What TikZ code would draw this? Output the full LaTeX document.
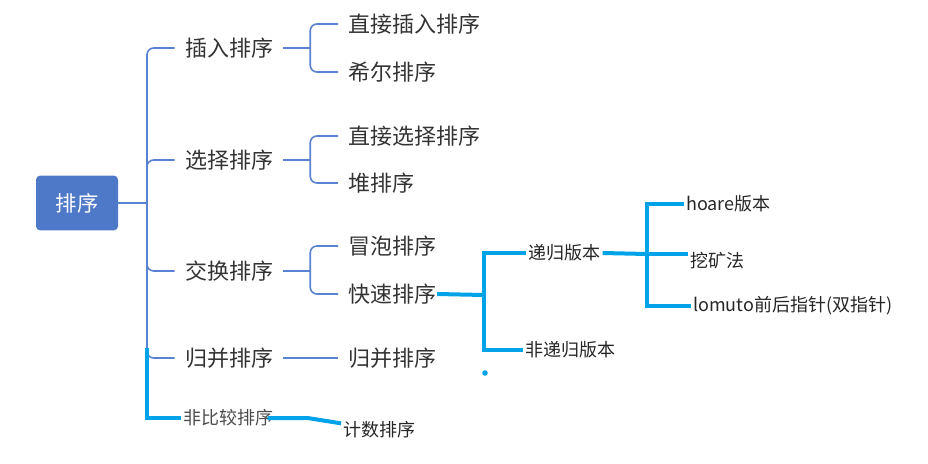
\documentclass[tikz,border=0pt]{standalone}
\usepackage{fontspec}
\setmainfont{Noto Sans CJK SC}
\usetikzlibrary{positioning}
\definecolor{rootfill}{HTML}{4E79C9}
\definecolor{connedge}{HTML}{5A82D2}
\definecolor{handedge}{HTML}{00A2E8}
\definecolor{labtext}{HTML}{333333}

\begin{document}
\begin{tikzpicture}[
  x=0.75pt, y=-0.75pt,
  root/.style={rectangle, rounded corners=3pt, fill=rootfill, text=white,
               minimum width=61.5pt, minimum height=41pt, font=\fontsize{16}{18}\selectfont},
  lone/.style={inner xsep=7.5pt, inner ysep=0pt, text=labtext, font=\fontsize{16.5}{18}\selectfont},
  ltwo/.style={lone, anchor=west},
  hnode/.style={anchor=west, inner xsep=1.5pt, inner ysep=0pt, text=black!85,
                font=\fontsize{13.5}{15}\selectfont},
  conn/.style={draw=connedge, line width=1.2pt, rounded corners=5pt},
  hand/.style={draw=handedge, line width=3pt},
]
\useasboundingbox (0,0) rectangle (928,464);

\node[root] (root) at (77,203) {排序};

\node[lone] (insert) at (229,48)  {插入排序};
\node[lone] (select) at (229,160) {选择排序};
\node[lone] (swap)   at (229,271) {交换排序};
\node[lone] (merge)  at (229,358) {归并排序};
\node[hnode, text=black!70] (noncmp) at (181,418) {非比较排序};

\node[ltwo] (dinsert) at (338,24)  {直接插入排序};
\node[ltwo] (shell)   at (338,72)  {希尔排序};
\node[ltwo] (dselect) at (338,136) {直接选择排序};
\node[ltwo] (heap)    at (338,183) {堆排序};
\node[ltwo] (bubble)  at (338,246) {冒泡排序};
\node[ltwo] (quick)   at (338,294) {快速排序};
\node[ltwo] (mergeb)  at (338,358) {归并排序};

\node[hnode] (count)  at (341,430) {计数排序};
\node[hnode] (rec)    at (526,253) {递归版本};
\node[hnode] (nonrec) at (523,350) {非递归版本};
\node[hnode] (hoare)  at (684,204) {hoare版本};
\node[hnode] (dig)    at (688,261) {挖矿法};
\node[hnode] (lomuto) at (691,306) {lomuto前后指针(双指针)};

% mind map tree
\coordinate (trunk) at (147,203);
\draw[conn] (root.east) -- (trunk);
\foreach \n in {insert, select, swap, merge}
  \draw[conn] (trunk) |- (\n.west);

\draw[conn] (insert.east) -- ++(27,0) coordinate (jins);
\draw[conn] (dinsert.west) -| (jins) |- (shell.west);
\draw[conn] (select.east) -- ++(27,0) coordinate (jsel);
\draw[conn] (dselect.west) -| (jsel) |- (heap.west);
\draw[conn] (swap.east) -- ++(27,0) coordinate (jswp);
\draw[conn] (bubble.west) -| (jswp) |- (quick.west);
\draw[conn] (merge.east) -- (mergeb.west);

% hand drawn additions
\coordinate (htop) at (147,348);
\draw[hand] (htop) |- (noncmp.west);
\draw[hand] ([xshift=-6pt]noncmp.east) -- ++(40,0) -- ([yshift=5pt]count.west);

\coordinate (jq) at (484,295);
\draw[hand] ([xshift=-7pt]quick.east) -- (jq);
\draw[hand] (rec.west) -| (jq) |- (nonrec.west);
\fill[handedge] (485,373) circle (2.8);

\coordinate (jr) at (647,254);
\draw[hand] (rec.east) -- (jr);
\draw[hand] (hoare.west) -| (jr) |- (lomuto.west);
\draw[hand] (jr) -- (jr -| dig.west);
\end{tikzpicture}
\end{document}
